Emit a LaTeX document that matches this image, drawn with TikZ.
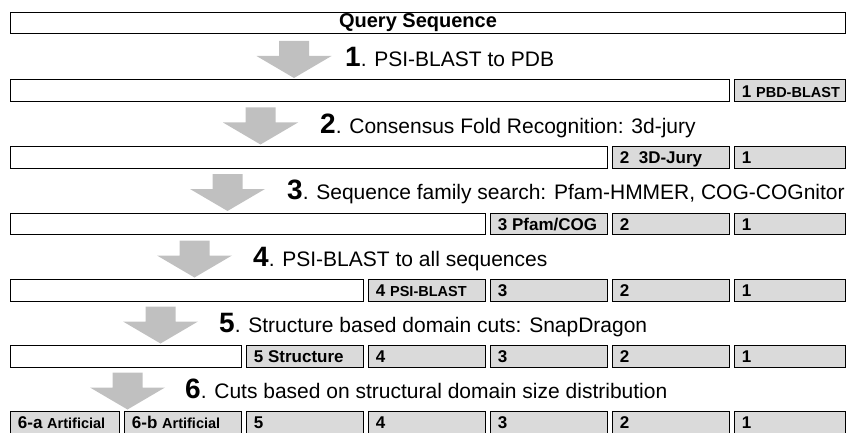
\documentclass[tikz,border=0pt]{standalone}
\usepackage{fontspec}
\setmainfont{Liberation Sans}

\definecolor{cellgray}{RGB}{218,218,218}
\definecolor{arrowgray}{RGB}{192,192,192}

\newcommand\cellfont{\fontsize{17}{17}\selectfont\bfseries}
\newcommand\smallbold{\fontsize{14.5}{14.5}\selectfont\bfseries}
\newcommand\stepnum[1]{{\fontsize{28}{28}\selectfont\bfseries #1}}

\tikzset{
  rowbox/.style={draw, line width=0.9pt, minimum height=21.5pt, inner sep=0pt, anchor=north west},
  cellbox/.style={rowbox, fill=cellgray, inner xsep=7.5pt, text height=15pt, text depth=2pt, font=\cellfont},
  steplabel/.style={anchor=base west, inner sep=0pt, font=\fontsize{21}{21}\selectfont}
}

\begin{document}
\begin{tikzpicture}[x=1pt, y=-1pt]

\path [use as bounding box] (0,0) rectangle (848,433);

% QUERY
\node [rowbox, minimum width=835pt] (query) at (10,12) {};
\node [font=\fontsize{20}{20}\selectfont\bfseries, inner sep=0pt] (querytext) at (418,23) {Query Sequence};

% ARROWS AND STEP LABELS
\foreach \ri/\ytop/\cx/\lx/\txt in {
    1/79.5/294/345/{PSI-BLAST to PDB},
    2/146/260.5/320/{Consensus Fold Recognition: 3d-jury},
    3/212.5/227.5/287/{Sequence family search: Pfam-HMMER, COG-COGnitor},
    4/279/194.5/253/{PSI-BLAST to all sequences},
    5/345/160.5/219/{Structure based domain cuts: SnapDragon},
    6/411/127.5/185/{Cuts based on structural domain size distribution}} {
  \pgfmathsetmacro\tipy{\ytop-1.5}
  \pgfmathsetmacro\basey{\ytop-13}
  \coordinate (tip\ri) at (\cx,\tipy);
  \fill [arrowgray] (tip\ri) -- +(-37.5,-22) -- +(-15,-22) -- +(-15,-37)
    -- +(15,-37) -- +(15,-22) -- +(37.5,-22) -- cycle;
  \node [steplabel] (step\ri) at (\lx,\basey) {\stepnum{\ri}. \txt};
}

% ROWS 1-5
\foreach \ri/\ytop/\tag in {
    1/79.5/{1 {\smallbold PBD-BLAST}},
    2/146/{2~~3D-Jury},
    3/212.5/{3 Pfam/COG},
    4/279/{4 {\smallbold PSI-BLAST}},
    5/345/{5 Structure}} {
  \pgfmathsetmacro\wrow{734-122*(\ri-1)-15}
  \node [rowbox, minimum width=\wrow pt] (row\ri) at (10,\ytop) {};
  \foreach \ci in {1,...,\ri} {
    \pgfmathsetmacro\lft{734-122*(\ci-1)}
    \pgfmathsetmacro\tw{\ci==1 ? 96 : 102}
    \node [cellbox] (cell\ri-\ci) at (\lft,\ytop)
      {\makebox[\tw pt][l]{\ifnum\ci=\ri\relax \tag\else\ci\fi}};
  }
}

% ROW 6
\node [cellbox] (cell6-a) at (10,411) {\makebox[94pt][l]{6-a {\smallbold Artificial}}};
\node [cellbox] (cell6-b) at (124,411) {\makebox[102pt][l]{6-b {\smallbold Artificial}}};
\foreach \ci in {1,...,5} {
  \pgfmathsetmacro\lft{734-122*(\ci-1)}
  \pgfmathsetmacro\tw{\ci==1 ? 96 : 102}
  \node [cellbox] (cell6-\ci) at (\lft,411) {\makebox[\tw pt][l]{\ci}};
}

\end{tikzpicture}
\end{document}
